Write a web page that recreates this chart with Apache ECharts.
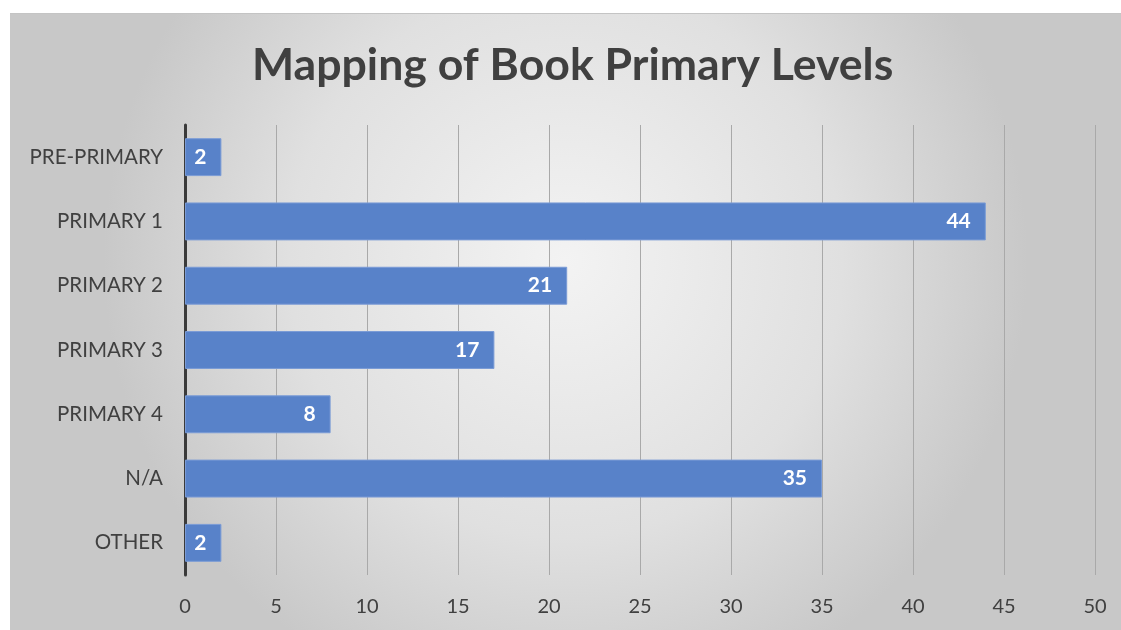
<!DOCTYPE html>
<html>
<head>
<meta charset="utf-8">
<script src="https://cdn.jsdelivr.net/npm/echarts@6/dist/echarts.min.js"></script>
<style>
  html, body { margin: 0; padding: 0; background: #ffffff; }
  #chart { position: absolute; left: 10px; top: 13px; width: 1111px; height: 617px; border-top: 1px solid #c4c4c4; box-sizing: border-box; }
</style>
</head>
<body>
<div id="chart"></div>
<script>
const categories = ["PRE-PRIMARY", "PRIMARY 1", "PRIMARY 2", "PRIMARY 3", "PRIMARY 4", "N/A", "OTHER"];
const values = [2, 44, 21, 17, 8, 35, 2];
const titleText = "Mapping of Book Primary Levels";

const chart = echarts.init(document.getElementById('chart'), null, { renderer: 'canvas' });
chart.setOption({
  backgroundColor: {
    type: 'radial', x: 0.5, y: 0.4, r: 0.75,
    colorStops: [
      { offset: 0, color: '#f3f3f3' },
      { offset: 0.6, color: '#e0e0e0' },
      { offset: 1, color: '#c8c8c8' }
    ]
  },
  title: {
    text: titleText,
    left: 237,
    top: 24,
    textStyle: { fontFamily: 'Lato', fontWeight: 'bold', fontSize: 44.6, color: '#404040' }
  },
  grid: { left: 175, right: 26, top: 111, bottom: 55, containLabel: false },
  xAxis: {
    type: 'value', min: 0, max: 50, interval: 5,
    axisLine: { show: false },
    axisTick: { show: false },
    splitLine: { show: true, lineStyle: { color: '#a9a9a9', width: 1 } },
    axisLabel: { fontFamily: 'Lato', fontSize: 20, color: '#404040', margin: 22 }
  },
  yAxis: {
    type: 'category', data: categories, inverse: true,
    axisLine: { show: true, lineStyle: { color: '#3a3a3a', width: 3 } },
    axisTick: { show: false },
    axisLabel: { fontFamily: 'Lato', fontSize: 20.5, color: '#404040', margin: 22 }
  },
  series: [{
    type: 'bar', data: values, barCategoryGap: '41%',
    itemStyle: { color: '#5882c9', borderColor: '#7a9bd6', borderWidth: 1 },
    label: {
      show: true, position: 'insideRight', distance: 15,
      fontFamily: 'Lato', fontWeight: 'bold', fontSize: 21, color: '#ffffff'
    }
  }]
});
</script>
</body>
</html>
